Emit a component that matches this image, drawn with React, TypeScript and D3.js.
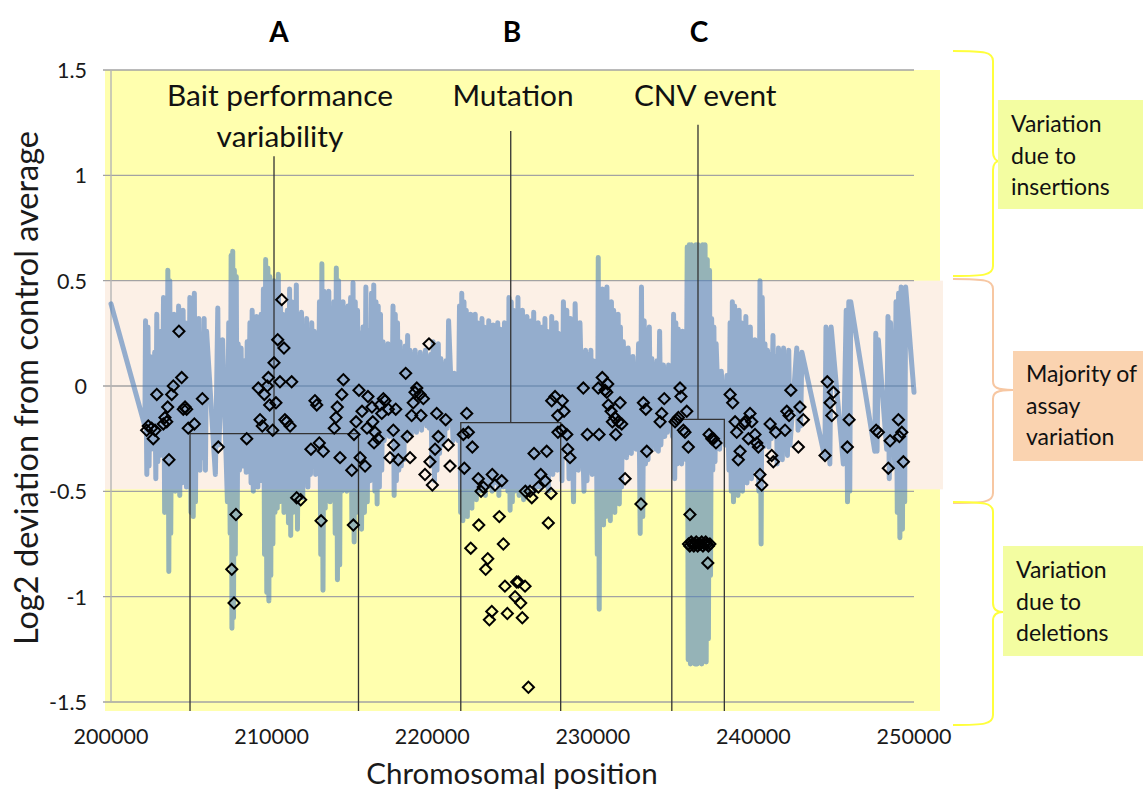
import React from 'react';
import * as d3 from 'd3';

const W = 1143;
const H = 792;

// Probe-level log2 deviation trace: [chromosomal position, log2 deviation]
const probeTrace: [number, number][] = [
  [200000, 0.39], [202110, -0.19],
  [202150, 0.31], [202230, -0.42], [202300, 0.28], [202370, -0.38], [202440, 0.14], [202510, -0.30], [202580, 0.12], [202650, -0.28], [202720, 0.16], [202790, -0.44],
  [202850, 0.34], [202920, -0.36], [202990, 0.22], [203060, -0.33], [203130, 0.26], [203200, -0.30], [203270, 0.42], [203340, -0.60], [203410, 0.38], [203480, -0.55],
  [203540, 0.55], [203600, -0.88], [203660, 0.50], [203720, -0.70], [203790, 0.30], [203860, -0.48], [203930, 0.34], [204000, -0.50], [204070, 0.28], [204140, -0.44],
  [204210, 0.38], [204280, -0.52], [204350, 0.32], [204420, -0.46], [204490, 0.36], [204560, -0.40], [204630, 0.30], [204700, -0.48], [204770, 0.24], [204840, -0.36],
  [204910, 0.42], [204980, -0.60], [205050, 0.36], [205120, -0.62], [205190, 0.44], [205260, -0.55], [205330, 0.30], [205400, -0.38], [205470, 0.32], [205540, -0.40],
  [205610, 0.20], [205690, -0.34], [205800, 0.32], [205880, -0.40], [205950, 0.26], [206500, -0.42], [206650, 0.37], [206720, -0.28], [206950, 0.22], [207250, -0.55],
  [207330, 0.30], [207420, -0.70], [207480, 0.62], [207530, -1.15], [207580, 0.64], [207630, -1.10], [207680, 0.55], [207740, -0.80], [207800, 0.52], [207860, -0.62],
  [207920, 0.20], [208000, -0.40], [208100, 0.18], [208200, -0.38], [208300, 0.12], [208420, -0.41], [208480, 0.21], [208560, -0.30],
  [208650, 0.30], [208720, -0.46], [208790, 0.36], [208860, -0.50], [208930, 0.28], [209000, -0.42], [209070, 0.33], [209140, -0.48], [209210, 0.25], [209280, -0.45],
  [209350, 0.34], [209420, -0.40], [209490, 0.46], [209560, -0.80], [209630, 0.60], [209700, -0.98], [209770, 0.56], [209830, -1.02], [209890, 0.52], [209950, -0.90],
  [210010, 0.48], [210080, -0.75], [210150, 0.50], [210210, -0.60], [210280, 0.40], [210350, -0.58], [210420, 0.53], [210490, -0.55], [210560, 0.38], [210630, -0.52],
  [210700, 0.34], [210770, -0.60], [210840, 0.30], [210910, -0.48], [210980, 0.36], [211050, -0.65], [211120, 0.46], [211190, -0.71], [211260, 0.40], [211330, -0.60],
  [211400, 0.32], [211470, -0.55], [211540, 0.48], [211610, -0.68], [211700, 0.30], [211780, -0.50], [211860, 0.35], [211940, -0.53], [212020, 0.28], [212100, -0.45],
  [212180, 0.32], [212260, -0.48], [212340, 0.24], [212420, -0.42], [212500, 0.30], [212580, -0.38], [212660, 0.26], [212740, -0.42], [212820, 0.22], [212900, -0.36],
  [212980, 0.40], [213060, -0.80], [213130, 0.58], [213200, -0.97], [213270, 0.45], [213340, -0.58], [213410, 0.42], [213480, -0.50], [213560, 0.45], [213640, -0.55],
  [213720, 0.36], [213800, -0.48], [213880, 0.40], [213960, -0.70], [214030, 0.56], [214100, -0.92], [214170, 0.50], [214240, -0.85], [214310, 0.38], [214380, -0.50],
  [214450, 0.40], [214520, -0.46], [214600, 0.34], [214680, -0.50], [214760, 0.38], [214840, -0.44], [214920, 0.42], [215000, -0.66], [215070, 0.49], [215140, -0.74],
  [215210, 0.40], [215280, -0.60], [215350, 0.36], [215430, -0.52], [215520, 0.25], [215600, -0.68], [215690, 0.28], [215780, -0.60], [215870, 0.47], [215960, -0.55],
  [216050, 0.26], [216140, -0.45], [216220, 0.44], [216290, -0.42], [216360, 0.48], [216430, -0.50], [216500, 0.40], [216570, -0.56], [216640, 0.38], [216710, -0.48],
  [216780, 0.34], [216860, -0.40], [216940, 0.21], [217010, -0.26], [217090, 0.18], [217170, -0.22], [217250, 0.20], [217330, -0.24], [217410, 0.15], [217490, -0.20],
  [217560, 0.38], [217630, -0.52], [217700, 0.34], [217770, -0.45], [217840, 0.30], [217920, -0.40], [218000, 0.21], [218080, -0.38], [218160, 0.16], [218240, -0.35],
  [218320, 0.19], [218400, -0.26], [218470, 0.24], [218540, -0.22], [218620, 0.17], [218700, -0.23], [218780, 0.15], [218860, -0.20], [218940, 0.17], [219020, -0.22],
  [219100, 0.12], [219180, -0.18], [219260, 0.16], [219340, -0.21], [219420, 0.14], [219500, -0.17], [219580, 0.17], [219660, -0.19], [219740, 0.12], [219820, -0.20],
  [219900, 0.15], [219980, -0.38], [220060, 0.21], [220140, -0.45], [220220, 0.18], [220300, -0.40], [220380, 0.20], [220460, -0.32], [220540, 0.13], [220620, -0.28],
  [220700, 0.10], [220780, -0.25], [220860, 0.12], [220940, -0.20], [221020, 0.31], [221300, -0.26], [221380, 0.06], [221460, -0.24], [221540, 0.04], [221620, -0.26],
  [221700, 0.38], [221770, -0.60], [221840, 0.44], [221910, -0.64], [221980, 0.40], [222050, -0.55], [222120, 0.36], [222190, -0.62], [222260, 0.30], [222330, -0.50],
  [222400, 0.34], [222470, -0.58], [222540, 0.28], [222610, -0.48], [222680, 0.34], [222750, -0.54], [222820, 0.30], [222890, -0.46], [222960, 0.26], [223030, -0.50],
  [223100, 0.32], [223170, -0.44], [223240, 0.28], [223310, -0.52], [223380, 0.24], [223450, -0.48], [223520, 0.31], [223590, -0.42], [223660, 0.27], [223730, -0.50],
  [223800, 0.29], [223870, -0.46], [223940, 0.25], [224010, -0.40], [224080, 0.30], [224150, -0.52], [224220, 0.27], [224290, -0.44], [224360, 0.22], [224430, -0.48],
  [224500, 0.30], [224570, -0.42], [224640, 0.26], [224710, -0.50], [224780, 0.42], [224850, -0.59], [224920, 0.40], [224990, -0.55], [225060, 0.36], [225130, -0.50],
  [225200, 0.34], [225270, -0.45], [225340, 0.42], [225410, -0.52], [225480, 0.30], [225550, -0.48], [225620, 0.36], [225690, -0.54], [225760, 0.28], [225830, -0.44],
  [225900, 0.33], [225970, -0.50], [226040, 0.26], [226110, -0.46], [226180, 0.31], [226250, -0.42], [226320, 0.35], [226390, -0.50], [226460, 0.27], [226530, -0.44],
  [226600, 0.30], [226670, -0.48], [226740, 0.24], [226810, -0.40], [226880, 0.28], [226950, -0.46], [227020, 0.32], [227090, -0.42], [227160, 0.26], [227230, -0.50],
  [227300, 0.22], [227370, -0.40], [227440, 0.33], [227510, -0.42], [227580, 0.28], [227650, -0.38], [227720, 0.30], [227790, -0.40], [227860, 0.25], [227930, -0.36],
  [228000, 0.20], [228080, -0.45], [228170, 0.40], [228300, -0.30], [228380, 0.36], [228520, -0.44], [228600, 0.32], [228800, -0.55], [228900, 0.39], [229100, -0.40],
  [229200, 0.30], [229450, -0.50], [229550, 0.17], [229640, -0.45], [229720, 0.15], [229800, -0.40], [229880, 0.17], [229960, -0.42], [230040, 0.12], [230120, -0.38],
  [230200, 0.10], [230280, -0.80], [230340, 0.61], [230400, -1.06], [230460, 0.40], [230530, -0.60], [230600, 0.46], [230670, -0.66], [230740, 0.42], [230810, -0.62],
  [230880, 0.47], [230950, -0.58], [231020, 0.38], [231090, -0.64], [231160, 0.40], [231230, -0.55], [231300, 0.36], [231370, -0.60], [231440, 0.30], [231510, -0.50],
  [231580, 0.34], [231650, -0.56], [231720, 0.28], [231790, -0.48], [231900, 0.21], [232100, -0.34], [232200, 0.18], [232400, -0.32], [232500, 0.14], [232700, -0.30],
  [232850, 0.20], [232950, -0.70], [233030, 0.47], [233110, -0.62], [233200, 0.31], [233280, -0.37], [233360, 0.26], [233440, -0.35], [233520, 0.28], [233600, -0.31],
  [233680, 0.13], [233760, -0.28], [233840, 0.10], [233920, -0.30], [234000, 0.12], [234080, -0.31], [234160, 0.26], [234240, -0.28], [234400, 0.10], [234480, -0.24],
  [234560, 0.08], [234640, -0.22], [234720, 0.10], [234800, -0.20], [234880, 0.06], [234960, -0.24], [235030, 0.34], [235100, -0.44], [235170, 0.30], [235250, -0.37],
  [235320, 0.27], [235390, -0.33], [235460, 0.24], [235530, -0.37], [235600, 0.26], [235670, -0.30], [235740, 0.22], [235810, -0.35],
  [235880, 0.66], [235940, -1.30], [236010, 0.67], [236080, -1.32], [236150, 0.67], [236220, -1.31], [236290, 0.66], [236360, -1.32], [236430, 0.67], [236500, -1.32],
  [236570, 0.67], [236640, -1.31], [236710, 0.66], [236780, -1.32], [236850, 0.67], [236920, -1.30], [236990, 0.67], [237060, -1.31], [237130, 0.60], [237200, -1.20],
  [237270, 0.55], [237330, -0.90], [237400, 0.32], [237470, -0.40], [237540, 0.28], [237610, -0.36], [237680, 0.20], [237900, -0.30], [238000, 0.07], [238250, -0.28],
  [238350, 0.05], [238480, -0.40], [238550, 0.30], [238620, -0.50], [238690, 0.40], [238760, -0.55], [238830, 0.38], [238900, -0.48], [238970, 0.33], [239040, -0.52],
  [239110, 0.36], [239180, -0.45], [239250, 0.30], [239320, -0.50], [239390, 0.28], [239460, -0.42], [239530, 0.33], [239600, -0.46], [239670, 0.25], [239740, -0.40],
  [239810, 0.28], [239880, -0.44], [239950, 0.21], [240020, -0.38], [240100, 0.22], [240180, -0.40], [240260, 0.18], [240340, -0.50], [240410, 0.50], [240480, -0.75],
  [240550, 0.42], [240640, -0.29], [240720, 0.20], [240800, -0.26], [240880, 0.17], [240960, -0.29], [241040, 0.15], [241120, -0.25], [241220, 0.24], [241300, -0.21],
  [241400, 0.14], [241480, -0.37], [241560, 0.18], [241640, -0.32], [241720, 0.16], [241800, -0.35], [241880, 0.18], [241960, -0.30], [242040, 0.12], [242120, -0.33],
  [242200, 0.17], [242280, -0.28], [242700, 0.18], [242780, -0.21], [242860, 0.15], [242940, -0.19], [243020, 0.16], [244450, -0.34], [244520, 0.28], [244600, -0.31],
  [244680, 0.26], [244760, -0.37], [244840, 0.28], [245600, -0.37], [245780, 0.36], [245860, -0.55], [245940, 0.40], [246000, -0.50], [246060, 0.40], [247560, -0.31],
  [247620, 0.25], [247700, -0.31], [247780, 0.22], [248300, -0.30], [248380, 0.33], [248460, -0.44], [248540, 0.30], [248800, -0.38], [248880, 0.40], [248960, -0.60],
  [249040, 0.44], [249120, -0.72], [249200, 0.47], [249280, -0.68], [249360, 0.45], [249420, -0.55], [249480, 0.47], [250000, -0.03],
];

// Per-sample calls: [chromosomal position, log2 deviation]
const sampleCalls: [number, number][] = [
  [202220, -0.21], [202320, -0.19], [202530, -0.20], [202740, -0.21], [202630, -0.25], [202850, -0.04], [203360, -0.15], [203470, -0.17],
  [203260, -0.18], [203530, -0.10], [203780, -0.04], [203880, 0.00], [204230, 0.26], [204400, 0.04], [204610, -0.10], [204500, -0.11],
  [204710, -0.11], [203610, -0.35], [204810, -0.20], [205190, -0.18], [205690, -0.06], [206680, -0.29], [207780, -0.61], [207520, -0.87],
  [207660, -1.03], [208450, -0.25], [209170, -0.01], [209550, -0.04], [209730, 0.00], [209800, 0.04], [210150, 0.11], [210380, 0.22],
  [210770, 0.18], [210630, 0.41], [210520, 0.02], [211250, 0.02], [209880, -0.09], [210270, -0.08], [209280, -0.16], [209420, -0.19],
  [210070, -0.21], [210830, -0.16], [210940, -0.17], [211150, -0.19], [211560, -0.53], [211810, -0.54], [212700, -0.07], [212810, -0.09],
  [212450, -0.30], [212970, -0.27], [213220, -0.31], [213080, -0.64], [214470, 0.03], [214370, -0.04], [214090, -0.10], [214010, -0.15],
  [213900, -0.20], [214260, -0.34], [214990, -0.40], [215090, -0.66], [215440, -0.02], [216000, -0.05], [215630, -0.12], [216250, -0.10],
  [215260, -0.17], [215130, -0.23], [215940, -0.20], [216300, -0.17], [216440, -0.22], [216380, -0.27], [216630, -0.25], [215510, -0.34],
  [215820, -0.38], [216750, -0.09], [216960, -0.06], [217060, -0.07], [216860, -0.13], [217270, -0.11], [217730, -0.11], [217580, -0.21],
  [217600, -0.28], [217370, -0.34], [217890, -0.35], [218350, 0.06], [218450, -0.24], [218620, -0.34], [218720, -0.14], [218820, -0.08],
  [219040, -0.01], [218930, -0.03], [219240, -0.04], [219450, -0.06], [219300, -0.14], [219800, 0.20], [219550, -0.42], [220010, -0.47],
  [219860, -0.36], [220280, -0.13], [220840, -0.16], [220380, -0.24], [220180, -0.30], [221000, -0.28], [221110, -0.38], [222150, -0.13],
  [222250, -0.22], [221940, -0.23], [222500, -0.29], [222000, -0.39], [222870, -0.44], [223180, -0.48], [223040, -0.50], [223740, -0.42],
  [223910, -0.47], [224330, -0.45], [222900, -0.66], [222400, -0.77], [223460, -0.82], [223330, -0.87], [224180, -0.62], [224430, -0.75],
  [224530, -0.95], [225260, -0.93], [225360, -0.93], [225780, -0.95], [225160, -1.00], [225510, -1.03], [223710, -1.07], [223560, -1.11],
  [224680, -1.08], [225610, -1.10], [225990, -1.43], [226340, -0.32], [227130, -0.31], [226760, -0.42], [227030, -0.45], [226610, -0.48],
  [226090, -0.50], [225800, -0.50], [227400, -0.51], [226200, -0.53], [227230, -0.65], [227440, -0.07], [227650, -0.05], [228100, -0.07],
  [227820, -0.14], [228210, -0.12], [228070, -0.21], [227830, -0.22], [228380, -0.23], [228440, -0.30], [228580, -0.34], [229410, -0.01],
  [229660, -0.23], [230390, -0.23], [230340, -0.01], [230590, 0.04], [230760, -0.02], [230870, -0.03], [230930, 0.01], [230970, -0.09],
  [231140, -0.12], [231380, -0.15], [231590, -0.17], [231220, -0.17], [231430, -0.23], [231800, -0.18], [231700, -0.08], [232010, -0.44],
  [233000, -0.56], [233150, -0.08], [233300, -0.11], [233360, -0.31], [234450, -0.06], [234290, -0.13], [234190, -0.17], [235430, -0.01],
  [235490, -0.05], [235850, -0.12], [235330, -0.15], [235120, -0.17], [235230, -0.16], [235640, -0.21], [235740, -0.22], [235950, -0.29],
  [236050, -0.61], [235960, -0.75], [236040, -0.76], [236130, -0.74], [236200, -0.75], [236290, -0.76], [236370, -0.75], [236440, -0.74],
  [236530, -0.76], [236610, -0.75], [236690, -0.75], [236780, -0.74], [236860, -0.76], [236950, -0.75], [237030, -0.74], [237120, -0.75],
  [237200, -0.76], [237290, -0.75], [237160, -0.84], [237240, -0.23], [237510, -0.25], [237670, -0.27], [237410, -0.25], [238550, -0.04],
  [238710, -0.08], [238860, -0.17], [238960, -0.22], [239420, -0.18], [239480, -0.17], [239790, -0.13], [239900, -0.17], [240100, -0.23],
  [239690, -0.25], [240210, -0.27], [240310, -0.29], [239170, -0.31], [239060, -0.35], [240410, -0.42], [240520, -0.47], [241040, -0.18],
  [241390, -0.22], [241140, -0.33], [241240, -0.36], [241970, -0.21], [242080, -0.12], [242220, -0.14], [242330, -0.02], [242900, -0.10],
  [243110, -0.16], [242800, -0.29], [244600, 0.02], [244980, -0.03], [244770, -0.08], [244880, -0.14], [244460, -0.33], [245960, -0.16],
  [245850, -0.29], [247640, -0.21], [247780, -0.22], [248510, -0.26], [248400, -0.39], [249030, -0.16], [249240, -0.22], [249090, -0.24],
  [249340, -0.36],
];

const yTicks = [1.5, 1, 0.5, 0, -0.5, -1, -1.5];
const xTicks = [200000, 210000, 220000, 230000, 240000, 250000];

// Event call-outs: stem position, stem top, bracket span and bracket level
const eventLetters = ['A', 'B', 'C'];
const eventLetterPos = [210460, 224970, 236620];
const eventLabels = [['Bait performance', 'variability'], ['Mutation'], ['CNV event']];
const eventLabelPos = [210520, 225030, 237000];
const eventStemPos = [210150, 224890, 236550];
const eventStemTop = [1.09, 1.21, 1.24];
const eventSpanFrom = [204920, 221780, 234920];
const eventSpanTo = [215410, 228000, 238190];
const eventLevel = [-0.226, -0.174, -0.158];

const bandNotes = [
  ['Variation', 'due to', 'insertions'],
  ['Majority of', 'assay', 'variation'],
  ['Variation', 'due to', 'deletions'],
];

function bracePath(x0: number, xs: number, xt: number, y0: number, ym: number, y1: number) {
  return `M${x0},${y0} C${x0 + 32},${y0} ${xs},${y0 + 1} ${xs},${y0 + 10} L${xs},${ym - 9} C${xs},${ym - 3} ${xs + 3},${ym} ${xt},${ym} C${xs + 3},${ym} ${xs},${ym + 3} ${xs},${ym + 9} L${xs},${y1 - 10} C${xs},${y1 - 1} ${x0 + 32},${y1} ${x0},${y1}`;
}

export default function App() {
  const x = d3.scaleLinear().domain([200000, 250000]).range([111, 914]);
  const y = d3.scaleLinear().domain([-1.5, 1.5]).range([702, 70]);
  const line = d3.line<[number, number]>().x((d) => x(d[0])).y((d) => y(d[1]));
  const diamond = d3.symbol().type(d3.symbolSquare).size(62)() as string;
  const bottom = 711;
  const font = 'Lato, "Open Sans", sans-serif';

  return (
    <svg width={W} height={H} style={{ position: 'absolute', left: 0, top: 0, background: '#fff' }} fontFamily={font}>
      {/* plot area and the +/-0.5 band */}
      <rect x={105} y={y(1.5)} width={835} height={bottom - y(1.5)} fill="#FFFFAE" />
      <rect x={105} y={y(0.5)} width={838} height={y(-0.5) - y(0.5) - 2} fill="#FCF0E6" />

      {yTicks.map((t) => (
        <line key={t} x1={103} x2={x(250000)} y1={y(t)} y2={y(t)} stroke="#A3A3A3" strokeWidth={1.4} />
      ))}
      <line x1={x(200000)} x2={x(200000)} y1={y(1.5)} y2={y(-1.5)} stroke="#B5B5B5" strokeWidth={1.4} />

      {/* probe trace */}
      <path d={line(probeTrace) ?? ''} fill="none" stroke="rgb(79,129,189)" strokeOpacity={0.6}
        strokeWidth={5} strokeLinejoin="round" strokeLinecap="round" />

      {/* event brackets */}
      {eventLetters.map((_, i) => (
        <g key={i} stroke="#333" strokeWidth={1.3} fill="none">
          <line x1={x(eventStemPos[i])} x2={x(eventStemPos[i])} y1={y(eventStemTop[i])} y2={y(eventLevel[i])} />
          <path d={`M${x(eventSpanFrom[i])},${bottom} V${y(eventLevel[i])} H${x(eventSpanTo[i])} V${bottom}`} />
        </g>
      ))}

      {/* sample calls */}
      {sampleCalls.map((d, i) => (
        <path key={i} d={diamond} transform={`translate(${x(d[0])},${y(d[1])}) rotate(45)`}
          fill="none" stroke="#000" strokeWidth={2} />
      ))}

      {/* y axis labels */}
      {yTicks.map((t) => (
        <text key={t} x={87} y={y(t) + 8} textAnchor="end" fontSize={21.5} fill="#1a1a1a">{String(t)}</text>
      ))}
      {/* x axis labels */}
      {xTicks.map((t) => (
        <text key={t} x={x(t)} y={744} textAnchor="middle" fontSize={21.5} fill="#1a1a1a">{String(t)}</text>
      ))}

      <text transform={`translate(38,388) rotate(-90)`} textAnchor="middle" fontSize={32.5} fill="#1a1a1a">
        Log2 deviation from control average
      </text>
      <text x={512} y={784} textAnchor="middle" fontSize={29.5} fill="#1a1a1a">Chromosomal position</text>

      {/* event letters and labels */}
      {eventLetters.map((l, i) => (
        <text key={l} x={x(eventLetterPos[i])} y={42} textAnchor="middle" fontSize={28} fontWeight="bold" fill="#000">{l}</text>
      ))}
      {eventLabels.map((lines, i) => (
        <text key={i} textAnchor="middle" fontSize={29.8} fill="#111">
          {lines.map((s, j) => (
            <tspan key={j} x={x(eventLabelPos[i])} y={106 + j * 41}>{s}</tspan>
          ))}
        </text>
      ))}

      {/* braces */}
      <path d={bracePath(953, 993, 999, 51, 161, 276)} fill="none" stroke="#FFFF3C" strokeWidth={2} />
      <path d={bracePath(953, 993, 1013, 279, 390, 503)} fill="none" stroke="#F7C7A2" strokeWidth={2} />
      <path d={bracePath(953, 993, 1003, 502, 612, 725)} fill="none" stroke="#FFFF3C" strokeWidth={2} />

      {/* band notes */}
      <rect x={998} y={100} width={150} height={109} fill="#F3FDA1" />
      <rect x={1013} y={351} width={135} height={110} fill="#FAD3B0" />
      <rect x={1003} y={546} width={145} height={110} fill="#F3FDA1" />
      {[{ x: 1011, y: 132 }, { x: 1026, y: 382 }, { x: 1016, y: 578 }].map((p, i) => (
        <text key={i} fontSize={23} fill="#111">
          {bandNotes[i].map((s, j) => (
            <tspan key={j} x={p.x} y={p.y + j * 31.5}>{s}</tspan>
          ))}
        </text>
      ))}
    </svg>
  );
}
